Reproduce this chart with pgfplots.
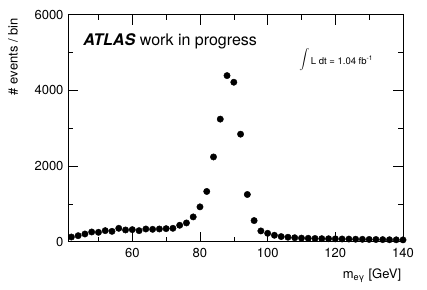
\documentclass[border=0pt]{standalone}
\usepackage{pgfplots}
\pgfplotsset{compat=1.18}
\usepackage{fontspec}
\setmainfont{TeX Gyre Heros}
\usetikzlibrary{calc}
\begin{document}
\begin{tikzpicture}
\begin{axis}[name=ax, scale only axis, width=335pt, height=227pt,
  xmin=41, xmax=140, ymin=0, ymax=6000,
  xtick={60,80,...,140}, ytick={0,2000,4000,6000},
  minor xtick={50,70,...,130}, minor ytick={1000,3000,5000},
  tick align=inside, tick pos=both,
  major tick length=10pt, minor tick length=5pt,
  every tick/.style={black, line width=0.6pt},
  axis line style={black, line width=0.7pt},
  /pgf/number format/assume math mode=true,
  /pgf/number format/1000 sep={},
  scaled y ticks=false,
  ticklabel style={font=\fontsize{13}{15}\selectfont},
  xticklabel style={yshift=-3pt},
  yticklabel style={xshift=-1pt},
  label style={font=\fontsize{13}{15}\selectfont},
  xlabel={m\textsubscript{eγ} [GeV]},
  ylabel={\# events / bin},
  xlabel style={at={(axis description cs:1.005,-0.105)}, anchor=north east},
  ylabel style={at={(axis description cs:-0.164,1)}, anchor=east},
  clip=false,
]
\addplot[only marks, mark=*, mark size=3.2pt, black] coordinates {
(42,124) (44,159) (46,204) (48,257) (50,248) (52,292) (54,274) (56,354)
(58,310) (60,319) (62,292) (64,336) (66,327) (68,336) (70,345) (72,354)
(74,434) (76,496) (78,655) (80,921) (82,1328) (84,2240) (86,3240) (88,4390)
(90,4215) (92,2842) (94,1248) (96,558) (98,285) (100,222) (102,170) (104,135)
(106,118) (108,105) (110,95) (112,90) (114,85) (116,80) (118,78) (120,75)
(122,72) (124,70) (126,66) (128,63) (130,60) (132,58) (134,55) (136,52)
(138,50) (140,48)
};
\node[anchor=west, font=\fontsize{16}{18}\selectfont, inner sep=0pt] at (axis description cs:0.045,0.881) {\textbf{\textit{ATLAS}} work in progress};
\node[anchor=west, font=\fontsize{9.5}{11}\selectfont, inner sep=0pt] at (axis description cs:0.69,0.80) {{\fontsize{16}{18}\selectfont$\displaystyle\int$}\,L dt = 1.04 fb\textsuperscript{-1}};
\end{axis}
\pgfresetboundingbox
\path[use as bounding box] ($(ax.south west)+(-68pt,-48pt)$) rectangle ($(ax.north east)+(24pt,14.7pt)$);
\end{tikzpicture}
\end{document}
